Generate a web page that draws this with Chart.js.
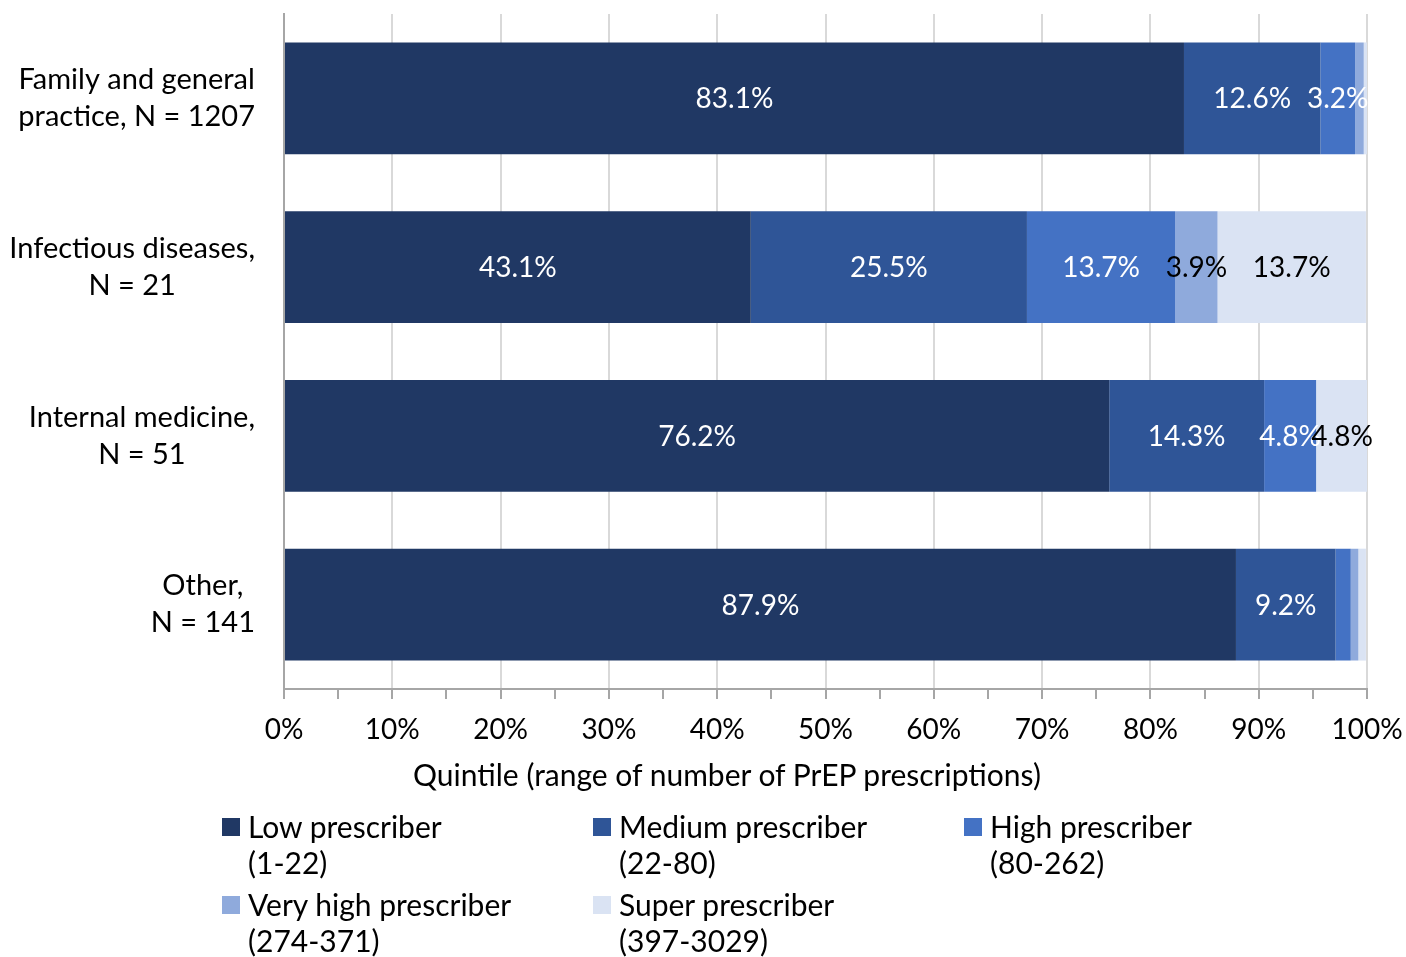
<!DOCTYPE html>
<html>
<head>
<meta charset="utf-8">
<script src="https://cdn.jsdelivr.net/npm/chart.js@4"></script>
<style>
  html, body { margin: 0; padding: 0; background: #fff; }
  #wrap { position: relative; width: 1406px; height: 957px; font-family: Lato, "Noto Sans", sans-serif; color: #000; }
  #chart { position: absolute; left: 0; top: 0; }
  #xtitle { position: absolute; left: 727px; top: 756px; transform: translateX(-50%); font-size: 30px; white-space: nowrap; line-height: 36px; }
  #legend { position: absolute; left: 222px; top: 808px; display: grid; grid-template-columns: 371px 371px 371px; row-gap: 6px; font-size: 30px; line-height: 36px; }
  .item { display: flex; align-items: flex-start; }
  .sw { width: 18px; height: 18px; margin: 10px 8px 0 0; flex: none; }
</style>
</head>
<body>
<div id="wrap">
  <canvas id="chart" width="1406" height="957"></canvas>
  <div id="xtitle"></div>
  <div id="legend"></div>
</div>
<script>
  const categories = [
    ["Family and general", "practice, N = 1207"],
    ["Infectious diseases,", "N = 21"],
    ["Internal medicine,", "N = 51"],
    ["Other,", "N = 141"],
  ];
  const seriesNames = ["Low prescriber", "Medium prescriber", "High prescriber", "Very high prescriber", "Super prescriber"];
  const seriesRanges = ["(1-22)", "(22-80)", "(80-262)", "(274-371)", "(397-3029)"];
  const seriesColors = ["#203864", "#2F5597", "#4472C4", "#8FAADC", "#DAE3F3"];
  const labelColors = ["#fff", "#fff", "#fff", "#000", "#000"];

  const low = [83.1, 43.1, 76.2, 87.9];
  const medium = [12.6, 25.5, 14.3, 9.2];
  const high = [3.2, 13.7, 4.8, 1.4];
  const veryHigh = [0.8, 3.9, 0, 0.7];
  const superP = [0.3, 13.7, 4.8, 0.7];

  const xTickValues = [0, 10, 20, 30, 40, 50, 60, 70, 80, 90, 100];
  const xTitle = "Quintile (range of number of PrEP prescriptions)";

  const FONT = "Lato, 'Noto Sans', sans-serif";
  const FS = 28;     // numbers
  const FS_CAT = 29; // category labels

  const seriesData = [low, medium, high, veryHigh, superP];

  // value labels centred on each segment, small ones hidden
  const segLabels = {
    id: "segLabels",
    afterDatasetsDraw(chart) {
      const ctx = chart.ctx;
      ctx.save();
      ctx.font = `${FS}px ${FONT}`;
      ctx.textAlign = "center";
      ctx.textBaseline = "middle";
      chart.data.datasets.forEach((ds, i) => {
        const meta = chart.getDatasetMeta(i);
        meta.data.forEach((bar, j) => {
          const v = ds.data[j];
          if (v < 2) return;
          const p = bar.getProps(["x", "y", "base"], true);
          ctx.fillStyle = labelColors[i];
          ctx.fillText(v.toFixed(1) + "%", (p.x + p.base) / 2, p.y + 1);
        });
      });
      ctx.restore();
    },
  };

  // category labels: block right-aligned, lines centred within the block
  const catLabels = {
    id: "catLabels",
    afterDraw(chart) {
      const ctx = chart.ctx;
      const y = chart.scales.y;
      ctx.save();
      ctx.font = `${FS_CAT}px ${FONT}`;
      ctx.fillStyle = "#000";
      ctx.textAlign = "center";
      ctx.textBaseline = "middle";
      const right = y.right - 29;
      categories.forEach((lines, i) => {
        const w = Math.max(...lines.map((l) => ctx.measureText(l).width));
        const cx = right - w / 2;
        const cy = y.getPixelForTick(i);
        const lh = 37;
        lines.forEach((l, k) => {
          ctx.fillText(l, cx, cy + (k - (lines.length - 1) / 2) * lh);
        });
      });
      ctx.restore();
    },
  };

  new Chart(document.getElementById("chart"), {
    type: "bar",
    data: {
      labels: categories.map((c) => c.join(" ")),
      datasets: seriesNames.map((name, i) => ({
        label: name,
        data: seriesData[i],
        backgroundColor: seriesColors[i],
        borderWidth: 0,
        barPercentage: 0.663,
        categoryPercentage: 1,
      })),
    },
    options: {
      indexAxis: "y",
      responsive: false,
      animation: false,
      layout: { padding: { top: 14, right: 39, left: 0, bottom: 0 } },
      plugins: { legend: { display: false }, tooltip: { enabled: false } },
      scales: {
        x: {
          stacked: true,
          min: 0,
          max: 100,
          afterBuildTicks(scale) {
            const t = [];
            for (let v = 0; v <= 100; v += 5) t.push({ value: v });
            scale.ticks = t;
          },
          afterFit(scale) {
            scale.height = 957 - 689;
            scale.paddingLeft = 0;
            scale.paddingRight = 0;
          },
          ticks: {
            autoSkip: false,
            maxRotation: 0,
            padding: 14,
            color: "#000",
            font: { family: FONT, size: FS },
            callback: (v) => (xTickValues.includes(v) ? v + "%" : ""),
          },
          grid: {
            color: (c) => (c.tick && c.tick.value % 10 === 0 && c.tick.value !== 0 ? "#d9d9d9" : "rgba(0,0,0,0)"),
            tickColor: "#a6a6a6",
            tickLength: 10,
            lineWidth: 2,
          },
          border: { color: "#a6a6a6", width: 2 },
        },
        y: {
          stacked: true,
          afterFit(scale) { scale.width = 284; },
          ticks: { display: false },
          grid: { display: false, drawTicks: false },
          border: { display: true, color: "#a6a6a6", width: 2 },
        },
      },
    },
    plugins: [segLabels, catLabels],
  });

  document.getElementById("xtitle").textContent = xTitle;
  const legend = document.getElementById("legend");
  seriesNames.forEach((name, i) => {
    const item = document.createElement("div");
    item.className = "item";
    item.innerHTML = `<span class="sw" style="background:${seriesColors[i]}"></span><span>${name}<br>${seriesRanges[i]}</span>`;
    legend.appendChild(item);
  });
</script>
</body>
</html>
